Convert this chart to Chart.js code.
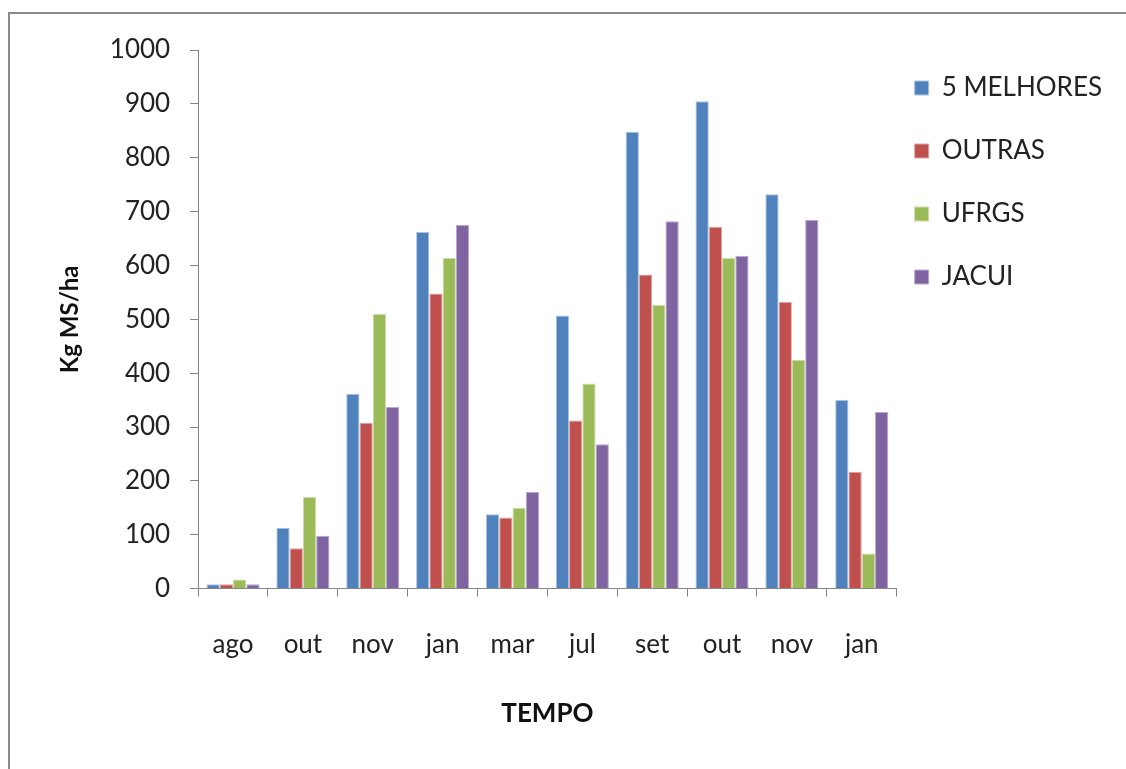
<!DOCTYPE html>
<html>
<head>
<meta charset="utf-8">
<script src="https://cdn.jsdelivr.net/npm/chart.js@4/dist/chart.umd.min.js"></script>
<style>
  html, body { margin: 0; padding: 0; background: #fff; overflow: hidden; }
  #wrap { position: relative; width: 1126px; height: 769px; }
  #frame { position: absolute; left: 8px; top: 12px; width: 1200px; height: 800px; border: 2px solid #8a8a8a; box-sizing: border-box; }
  canvas { position: absolute; left: 0; top: 0; }
</style>
</head>
<body>
<div id="wrap">
  <div id="frame"></div>
  <canvas id="myChart" width="1126" height="769"></canvas>
</div>
<script>
let months = ["ago", "out", "nov", "jan", "mar", "jul", "set", "out", "nov", "jan"];
let melhores = [8, 113, 362, 662, 138, 507, 848, 905, 732, 350];
let outras = [8, 75, 308, 548, 132, 312, 583, 672, 532, 217];
let ufrgs = [17, 170, 510, 614, 150, 381, 527, 614, 425, 65];
let jacui = [8, 98, 337, 675, 180, 268, 682, 618, 685, 328];
let yTicks = [0, 100, 200, 300, 400, 500, 600, 700, 800, 900, 1000];

var barColors = ["#4F81BD", "#C0504D", "#9BBB59", "#8064A2"];
var edgeColors = ["#a9c2e2", "#e0a3a1", "#cbdcab", "#b9a8cf"];

// move the legend a bit up / left, like the excel original
const legendShift = {
    id: "legendShift",
    afterLayout: function (chart) {
        chart.legend.left -= 19;
        chart.legend.right -= 19;
        chart.legend.top -= 12;
        chart.legend.bottom -= 12;
    }
};

function ds(label, data, i) {
    return {
        label: label,
        data: data,
        backgroundColor: barColors[i],
        borderColor: edgeColors[i],
        borderWidth: 1,
        categoryPercentage: 0.76,
        barPercentage: 1.0
    };
}

new Chart("myChart", {
    type: "bar",
    data: {
        labels: months,
        datasets: [
            ds("5 MELHORES", melhores, 0),
            ds("OUTRAS", outras, 1),
            ds("UFRGS", ufrgs, 2),
            ds("JACUI", jacui, 3)
        ]
    },
    plugins: [legendShift],
    options: {
        responsive: false,
        animation: false,
        layout: {padding: {left: 56, right: -5, top: 50, bottom: 40}},
        plugins: {
            tooltip: {enabled: false},
            legend: {
                position: "right",
                align: "start",
                labels: {
                    boxWidth: 14,
                    boxHeight: 14,
                    padding: 37,
                    color: "#222",
                    font: {family: "Lato", size: 26}
                }
            }
        },
        scales: {
            x: {
                grid: {
                    display: true,
                    drawOnChartArea: false,
                    drawTicks: true,
                    tickLength: 8,
                    color: "#868686"
                },
                border: {display: true, color: "#868686", width: 1},
                ticks: {
                    padding: 32,
                    color: "#222",
                    font: {family: "Lato", size: 26}
                },
                title: {
                    display: true,
                    text: "TEMPO",
                    color: "#111",
                    padding: {top: 6, bottom: 0},
                    font: {family: "Lato", size: 26, weight: "bold"}
                }
            },
            y: {
                min: 0,
                max: 1000,
                afterBuildTicks: function (axis) {
                    axis.ticks = yTicks.map(function (v) { return {value: v}; });
                },
                grid: {
                    display: true,
                    drawOnChartArea: false,
                    drawTicks: true,
                    tickLength: 8,
                    color: "#868686"
                },
                border: {display: true, color: "#868686", width: 1},
                ticks: {
                    padding: 20,
                    color: "#222",
                    font: {family: "Lato", size: 26},
                    callback: function (v) { return String(v); }
                },
                title: {
                    display: true,
                    text: "Kg MS/ha",
                    color: "#111",
                    padding: {top: 0, bottom: 5},
                    font: {family: "Lato", size: 24, weight: "bold"}
                }
            }
        }
    }
});
</script>
</body>
</html>
